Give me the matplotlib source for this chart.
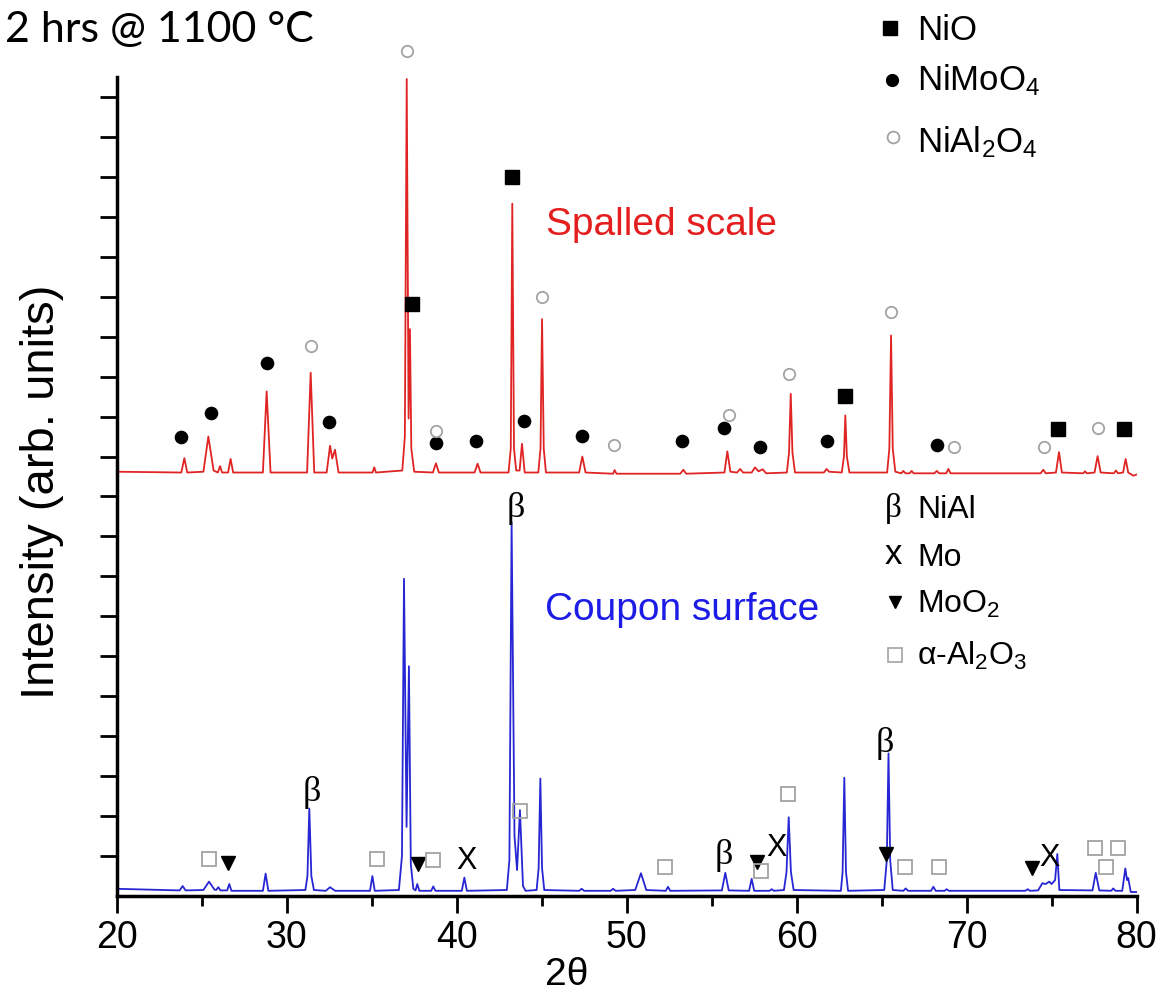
import matplotlib
matplotlib.use('Agg')
import matplotlib.pyplot as plt
from matplotlib.lines import Line2D

# ---------------- data ----------------
red_2theta = [20.0, 23.8, 23.98, 24.15, 25.1, 25.39, 25.7, 25.95, 26.08, 26.2, 26.55, 26.7, 26.85,
              28.6, 28.82, 29.05, 31.2, 31.41, 31.62, 32.35, 32.55, 32.68, 32.84, 33.05,
              35.05, 35.15, 35.25, 36.8, 36.95, 37.06, 37.17, 37.25, 37.33, 37.5,
              38.6, 38.78, 38.95, 41.05, 41.23, 41.4, 43.05, 43.18, 43.27, 43.37, 43.5,
              43.7, 43.84, 44.0, 44.8, 44.93, 45.02, 45.12, 45.25, 47.2, 47.39, 47.58,
              49.2, 49.29, 49.4, 53.15, 53.33, 53.5, 55.75, 55.92, 56.1, 56.5, 56.67, 56.85,
              57.35, 57.55, 57.75, 58.0, 58.2, 59.42, 59.55, 59.65, 59.75, 59.9,
              61.6, 61.76, 61.9, 62.65, 62.78, 62.86, 62.95, 63.1, 65.32, 65.45, 65.55, 65.65, 65.8,
              66.15, 66.27, 66.4, 66.65, 66.76, 66.88, 68.1, 68.24, 68.38, 68.8, 68.92, 69.05,
              74.35, 74.5, 74.65, 75.25, 75.43, 75.6, 76.85, 76.96, 77.07, 77.52, 77.7, 77.88,
              78.65, 78.78, 78.9, 79.2, 79.35, 79.5, 79.8, 80.0]
red_intensity = [10.62, 10.6, 10.96, 10.6, 10.62, 11.5, 10.65, 10.6, 10.76, 10.6, 10.6, 10.94, 10.6,
                 10.6, 12.63, 10.6, 10.6, 13.1, 10.6, 10.6, 11.27, 10.95, 11.17, 10.6,
                 10.6, 10.73, 10.6, 10.65, 11.5, 20.45, 11.95, 14.19, 11.2, 10.62,
                 10.6, 10.83, 10.6, 10.6, 10.82, 10.6, 10.6, 11.2, 17.33, 11.2, 10.65,
                 10.65, 11.32, 10.6, 10.6, 11.2, 14.44, 11.2, 10.6, 10.6, 11.0, 10.6,
                 10.57, 10.66, 10.57, 10.57, 10.67, 10.57, 10.6, 11.13, 10.62, 10.6, 10.69, 10.6,
                 10.6, 10.73, 10.63, 10.68, 10.58, 10.6, 11.1, 12.57, 11.1, 10.6,
                 10.6, 10.69, 10.62, 10.6, 11.0, 12.03, 11.0, 10.6, 10.6, 11.2, 14.03, 11.2, 10.62,
                 10.58, 10.64, 10.58, 10.58, 10.64, 10.58, 10.58, 10.64, 10.58, 10.58, 10.69, 10.58,
                 10.58, 10.67, 10.58, 10.6, 11.11, 10.6, 10.58, 10.63, 10.58, 10.6, 11.01, 10.6,
                 10.58, 10.65, 10.58, 10.6, 10.94, 10.6, 10.52, 10.55]

blue_2theta = [20.0, 23.7, 23.88, 24.05, 25.1, 25.43, 25.75, 25.85, 25.98, 26.1, 26.5, 26.62, 26.75,
               28.6, 28.76, 28.92, 31.1, 31.22, 31.33, 31.45, 31.6, 32.3, 32.55, 32.85,
               34.9, 35.04, 35.18, 36.6, 36.78, 36.9, 37.05, 37.19, 37.3, 37.45,
               37.58, 37.68, 37.8, 38.5, 38.62, 38.75, 40.3, 40.45, 40.6,
               42.95, 43.1, 43.23, 43.4, 43.55, 43.72, 43.9, 44.05, 44.7, 44.82, 44.92, 45.02, 45.15,
               47.2, 47.35, 47.5, 49.05, 49.2, 49.35, 50.5, 50.84, 51.15, 52.3, 52.43, 52.56,
               55.6, 55.8, 56.0, 57.2, 57.35, 57.5, 58.4, 58.53, 58.66,
               59.25, 59.4, 59.53, 59.66, 59.82, 62.6, 62.7, 62.8, 62.9, 63.02,
               65.15, 65.3, 65.4, 65.5, 65.65, 66.28, 66.41, 66.55, 67.9, 68.04, 68.18, 68.7, 68.82, 68.95,
               73.45, 73.59, 73.72, 74.2, 74.45, 74.65, 74.85, 75.0, 75.2, 75.33, 75.45,
               77.4, 77.59, 77.8, 78.5, 78.62, 78.75, 79.15, 79.33, 79.43, 79.5, 79.65, 80.0]
blue_intensity = [0.18, 0.14, 0.25, 0.14, 0.15, 0.36, 0.16, 0.15, 0.22, 0.14, 0.14, 0.3, 0.13,
                  0.13, 0.56, 0.13, 0.15, 0.5, 2.19, 0.5, 0.15, 0.13, 0.22, 0.13,
                  0.13, 0.5, 0.13, 0.15, 1.0, 7.94, 1.73, 5.75, 0.8, 0.18,
                  0.14, 0.3, 0.13, 0.13, 0.24, 0.13, 0.13, 0.46, 0.13,
                  0.15, 0.9, 9.35, 1.5, 0.65, 2.15, 0.25, 0.13, 0.15, 0.7, 2.94, 0.7, 0.15,
                  0.13, 0.18, 0.13, 0.13, 0.18, 0.13, 0.15, 0.57, 0.15, 0.13, 0.23, 0.13,
                  0.14, 0.58, 0.14, 0.13, 0.43, 0.13, 0.13, 0.17, 0.13,
                  0.15, 0.6, 1.97, 0.6, 0.15, 0.13, 0.6, 2.96, 0.6, 0.13,
                  0.15, 0.9, 3.57, 0.9, 0.15, 0.13, 0.19, 0.13, 0.13, 0.23, 0.13, 0.13, 0.17, 0.13,
                  0.13, 0.17, 0.13, 0.14, 0.32, 0.3, 0.36, 0.3, 0.4, 1.05, 0.15,
                  0.14, 0.58, 0.14, 0.13, 0.19, 0.13, 0.13, 0.69, 0.4, 0.45, 0.1, 0.1]

nio_x = [37.35, 43.27, 62.84, 75.37, 79.27]
nio_y = [14.82, 18.0, 12.52, 11.68, 11.68]
nimoo4_x = [23.78, 25.53, 28.82, 32.5, 38.78, 41.11, 43.94, 47.39, 53.27, 55.74, 57.84, 61.76, 68.27]
nimoo4_y = [11.5, 12.09, 13.33, 11.86, 11.34, 11.4, 11.88, 11.52, 11.39, 11.72, 11.24, 11.39, 11.28]
nial2o4_x = [37.06, 31.41, 38.78, 45.04, 49.23, 56.0, 59.55, 65.55, 69.25, 74.55, 77.74]
nial2o4_y = [21.15, 13.76, 11.65, 15.0, 11.3, 12.03, 13.07, 14.63, 11.24, 11.24, 11.72]

beta_x = [31.45, 43.45, 55.74, 65.18]
beta_y = [2.6, 9.69, 1.02, 3.82]
mo_x = [40.55, 58.82, 74.85]
mo_y = [0.88, 1.2, 0.96]
moo2_x = [26.53, 37.7, 57.65, 65.25, 73.82]
moo2_y = [0.82, 0.8, 0.86, 1.05, 0.69]
al2o3_x = [25.43, 35.29, 38.6, 43.74, 52.27, 57.9, 59.51, 66.39, 68.35, 77.55, 78.18, 78.88]
al2o3_y = [0.93, 0.93, 0.9, 2.13, 0.73, 0.63, 2.55, 0.73, 0.73, 1.19, 0.73, 1.19]

x_ticks = [20, 30, 40, 50, 60, 70, 80]
x_minor = [25, 35, 45, 55, 65, 75]
y_ticks = list(range(1, 21))

# ---------------- figure ----------------
W, H = 1159, 994
plt.rcParams['font.family'] = ['Liberation Sans', 'DejaVu Sans']
plt.rcParams['mathtext.fontset'] = 'custom'
plt.rcParams['mathtext.rm'] = 'Liberation Sans'
plt.rcParams['mathtext.default'] = 'regular'

fig = plt.figure(figsize=(W / 100, H / 100), dpi=100)
ax = fig.add_axes([116.7 / W, 1 - 896 / H, (1136.7 - 116.7) / W, (896 - 77) / H])

RED = '#e02424'
BLUE = '#2626d4'
GRAY = '#a3a3a3'
SERIF = ['Liberation Serif', 'DejaVu Serif']

ax.plot(red_2theta, red_intensity, color=RED, lw=1.3)
ax.plot(blue_2theta, blue_intensity, color=BLUE, lw=1.3)

ax.plot(nio_x, nio_y, ls='none', marker='s', ms=10.5, color='black', clip_on=False)
ax.plot(nimoo4_x, nimoo4_y, ls='none', marker='o', ms=8.8, color='black', clip_on=False)
ax.plot(nial2o4_x, nial2o4_y, ls='none', marker='o', ms=8.2, mfc='white', mec=GRAY, mew=1.3,
        clip_on=False)
ax.plot(moo2_x, moo2_y, ls='none', marker='v', ms=10, color='black', clip_on=False)
ax.plot(al2o3_x, al2o3_y, ls='none', marker='s', ms=10.5, mfc='none', mec=GRAY, mew=1.3,
        clip_on=False)
for bx, by in zip(beta_x, beta_y):
    ax.text(bx, by, 'β', fontsize=26, family=SERIF, ha='center', va='center')
for mx, my in zip(mo_x, mo_y):
    ax.text(mx, my, 'X', fontsize=22, ha='center', va='center')

ax.text(0.421, 0.819, 'Spalled scale', transform=ax.transAxes, color='#e41e1e', fontsize=28,
        ha='left', va='center')
ax.text(0.420, 0.349, 'Coupon surface', transform=ax.transAxes, color='#1c1ce6', fontsize=28,
        ha='left', va='center')

ax.set_xlim(20, 80)
ax.set_ylim(0, 20.5)
for s in ['top', 'right']:
    ax.spines[s].set_visible(False)
for s in ['left', 'bottom']:
    ax.spines[s].set_linewidth(2.5)
ax.set_xticks(x_ticks)
ax.set_xticks(x_minor, minor=True)
ax.set_yticks(y_ticks)
ax.set_yticklabels([])
ax.tick_params(axis='x', which='major', length=12, width=2, labelsize=27, pad=5, direction='out')
ax.tick_params(axis='x', which='minor', length=7, width=2, direction='out')
ax.tick_params(axis='y', which='major', length=12, width=2, direction='out')

fig.text(42 / W, 1 - 492 / H, 'Intensity (arb. units)', rotation=90, fontsize=34,
         ha='center', va='center')
fig.text(567 / W, 1 - 975 / H, '2θ', fontsize=28, ha='center', va='center')
fig.text(5 / W, 1 - 42 / H, '2 hrs @ 1100 °C', fontsize=31, family=['Lato', 'DejaVu Sans'],
         ha='left', va='baseline')

# ---------------- legends (drawn by hand, as in the figure) ----------------
def fx(px):
    return px / W

def fy(py):
    return 1 - py / H

def leg_marker(px, py, **kw):
    fig.add_artist(Line2D([fx(px)], [fy(py)], transform=fig.transFigure, ls='none', **kw))

leg_marker(890, 28, marker='s', ms=10, color='black')
leg_marker(891.5, 80, marker='o', ms=8.5, color='black')
leg_marker(893, 137, marker='o', ms=8.5, mfc='white', mec=GRAY, mew=1.3)
fig.text(fx(917), fy(40), 'NiO', fontsize=25, ha='left', va='baseline')
fig.text(fx(917), fy(90), 'NiMoO$_4$', fontsize=25, ha='left', va='baseline')
fig.text(fx(917), fy(152), 'NiAl$_2$O$_4$', fontsize=25, ha='left', va='baseline')

fig.text(fx(893), fy(508), 'β', fontsize=24, family=SERIF, ha='center', va='center')
fig.text(fx(893), fy(555), 'x', fontsize=25, ha='center', va='center')
leg_marker(895, 602, marker='v', ms=8, color='black')
leg_marker(895, 655, marker='s', ms=10.5, mfc='none', mec=GRAY, mew=1.2)
fig.text(fx(917), fy(518), 'NiAl', fontsize=23, ha='left', va='baseline')
fig.text(fx(917), fy(566), 'Mo', fontsize=23, ha='left', va='baseline')
fig.text(fx(917), fy(613), 'MoO$_2$', fontsize=23, ha='left', va='baseline')
fig.text(fx(917), fy(665), 'α-Al$_2$O$_3$', fontsize=23, ha='left', va='baseline')

fig.savefig('out.png', dpi=100)
